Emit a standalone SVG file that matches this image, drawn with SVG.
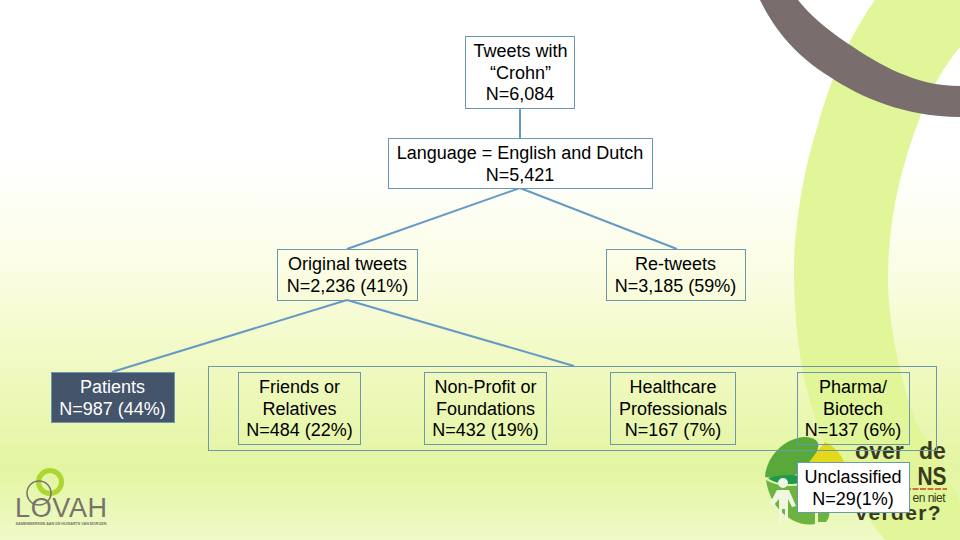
<svg xmlns="http://www.w3.org/2000/svg" width="960" height="540" viewBox="0 0 960 540">
<defs>
<linearGradient id="bg" x1="0" y1="0" x2="0" y2="1">
<stop offset="0" stop-color="#ffffff"/><stop offset="0.3" stop-color="#ffffff"/><stop offset="0.5" stop-color="#fbfde4"/><stop offset="0.7" stop-color="#eff9bd"/><stop offset="0.87" stop-color="#e3f5a2"/><stop offset="1" stop-color="#effac8"/>
</linearGradient>
</defs>
<style>
.box{fill:none;stroke:#6b97b0;stroke-width:1}
.white{fill:#fff}
text{font-family:"Liberation Sans",Arial,sans-serif;font-size:18px;fill:#000;text-anchor:middle}
.c{fill:none;stroke:#659ac6;stroke-width:2}
.logo{font-weight:bold;fill:#3a3a20}
</style>
<rect width="960" height="540" fill="url(#bg)"/>
<g id="decor">
<path d="M875 0C850 35 830 80 818 125C803 170 794 230 794 270C794 320 800 360 806 385C815 430 845 490 885 540H960V500L915 420C900 380 888 320 888 280C888 220 900 170 920 117C930 90 945 65 960 47V0Z" fill="#e0f698"/>
<path d="M760 0C775 30 795 55 830 77C860 97 905 117 960 117V86C915 86 880 65 847 43C825 28 810 15 798 0Z" fill="#796d6d"/>
</g>
<g id="lovah">
<circle cx="50" cy="482" r="11.500" fill="none" stroke="#aed631" stroke-width="5"/>
<circle cx="39" cy="493" r="12" fill="none" stroke="#77736c" stroke-width="1.500"/>
<text x="61" y="517" style="font-size:27px;fill:#77736c" textLength="92" lengthAdjust="spacing">LOVAH</text>
<text x="61" y="524.500" style="font-size:4px;fill:#77736c;font-weight:bold" textLength="91" lengthAdjust="spacingAndGlyphs">SAMENWERKEN AAN DE HUISARTS VAN MORGEN</text>
</g>
<g id="campaign">
<path d="M765 477C767 455 785 438 805 437C815 437 820 442 818 448C815 462 805 472 792 476C785 478 772 478 765 477Z" fill="#58a83a"/>
<path d="M768 478C780 474 800 474 810 478C800 486 778 486 768 478Z" fill="#1d9a4b"/>
<path d="M766 480C780 488 800 488 812 480L815 524C795 528 770 510 766 480Z" fill="#6cb43f"/>
<path d="M808 522V500H815V522ZM818 505C830 505 832 515 826 522L818 522Z" fill="#6cb43f"/>
<path d="M825 442C835 447 843 455 846 468H805C812 458 818 450 825 442Z" fill="#e3d81a"/>
<path d="M783 478a5 5 0 1 1 0 10a5 5 0 1 1 0-10ZM777 490H789L796 506L792 507L788 499V522H785V509H782V522H779V499L773 506L770 503Z" fill="#f0f6e0"/>
<text x="900.500" y="459" class="logo" style="font-size:23px;word-spacing:9px">over de</text>
<text x="932" y="485" class="logo" style="font-size:25px" textLength="29" lengthAdjust="spacingAndGlyphs">NS</text>
<path d="M905 489H947" stroke="#d0431c" stroke-width="1.500" stroke-dasharray="6 1.500"/>
<text x="929" y="502" style="font-size:12px;fill:#3a3a20" textLength="33">en niet</text>
<text x="898" y="520" class="logo" style="font-size:21px" textLength="85">verder?</text>
</g>
<g id="connectors">
<path class="c" d="M520 108V138M520 188L347 249M520 188L677 249M347 300L112 372M347 300L574 366"/>
</g>
<g id="group-frame"><rect class="box" x="208.500" y="366.500" width="728" height="84"/></g>
<g id="n1"><rect class="box white" x="465.500" y="36.500" width="109" height="72"/><text x="520.500" y="57">Tweets with</text><text x="520.500" y="79">“Crohn”</text><text x="520" y="100">N=6,084</text></g>
<g id="n2"><rect class="box white" x="388.500" y="138.500" width="264" height="50"/><text x="520" y="159">Language = English and Dutch</text><text x="520" y="181">N=5,421</text></g>
<g id="n3"><rect class="box" x="277.500" y="249.500" width="140" height="51"/><text x="347.500" y="270">Original tweets</text><text x="347.500" y="292">N=2,236 (41%)</text></g>
<g id="n4"><rect class="box" x="606.500" y="249.500" width="139" height="51"/><text x="675.500" y="270">Re-tweets</text><text x="675.500" y="292">N=3,185 (59%)</text></g>
<g id="n5"><rect x="51.500" y="372.500" width="123" height="50" fill="#44546a" stroke="#6b97b0"/><text x="112.500" y="393" style="fill:#fff">Patients</text><text x="112.500" y="415" style="fill:#fff">N=987 (44%)</text></g>
<g id="n6"><rect class="box" x="238.500" y="372.500" width="122" height="72"/><text x="299.500" y="393">Friends or</text><text x="299.500" y="415">Relatives</text><text x="299.500" y="436">N=484 (22%)</text></g>
<g id="n7"><rect class="box" x="424.500" y="372.500" width="122" height="72"/><text x="485.500" y="393">Non-Profit or</text><text x="485.500" y="415">Foundations</text><text x="485.500" y="436">N=432 (19%)</text></g>
<g id="n8"><rect class="box" x="610.500" y="372.500" width="125" height="72"/><text x="673" y="393">Healthcare</text><text x="673" y="415">Professionals</text><text x="673" y="436">N=167 (7%)</text></g>
<g id="n9"><rect class="box" x="797.500" y="372.500" width="112" height="72"/><text x="853" y="393">Pharma/</text><text x="853" y="415">Biotech</text><text x="853" y="436">N=137 (6%)</text></g>
<g id="n10"><rect class="box white" x="797.500" y="462.500" width="112" height="50"/><text x="853" y="483">Unclassified</text><text x="853" y="505">N=29(1%)</text></g>
</svg>
